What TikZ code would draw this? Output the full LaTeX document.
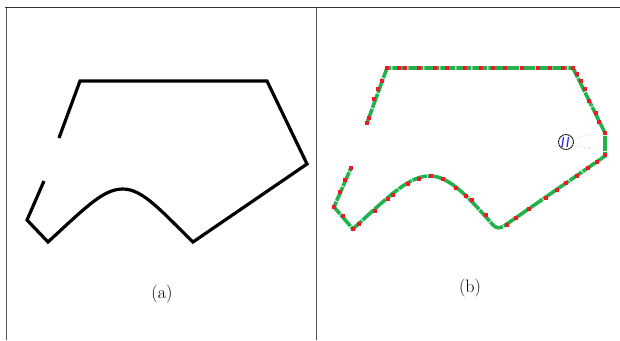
\documentclass[tikz,border=0pt]{standalone}
\usepackage{tikz}
\definecolor{cTrack}{HTML}{22B14C}
\definecolor{cSeed}{HTML}{ED1C24}
\definecolor{cFrame}{HTML}{555555}
\definecolor{cProbe}{HTML}{1F2BE0}
\newcommand{\seed}[2]{\fill[cSeed] (#1-2,#2-2) rectangle (#1+2,#2+2);}

\begin{document}
\begin{tikzpicture}[x=1pt, y=-1pt,
  frame/.style={draw=cFrame, line width=1pt},
  contour/.style={draw=black, line width=3.2pt, line join=miter},
  track/.style={draw=cTrack, line width=3.6pt, dash pattern=on 15pt off 1pt},
  probe/.style={draw=black, line width=0.9pt, dash pattern=on 2pt off 0.6pt},
  ray/.style={draw=cSeed!45, line width=0.6pt, dotted},
  caption/.style={font=\fontsize{18}{20}\selectfont, inner sep=0pt}]
\useasboundingbox (0,0) rectangle (620,340);
% ---- frame: top rule, left rule and the divider between the panels ----
\draw[frame, draw=black!80] (5,7.5) -- (620,7.5);
\draw[frame] (6.5,7.5) -- (6.5,340);
\draw[frame] (316,7.5) -- (316,340);
% ---- panel (a): the broken outline ----
\draw[contour] (59,138) -- (80,81) -- (267,81) -- (307,164) -- (193,242)
  .. controls (162,212) and (143,189) .. (123,189)
  .. controls (104,189) and (88,205) .. (48,242) -- (27,220) -- (44,181);
\node[caption] (capA) at (162,294) {(a)};
% ---- panel (b): the traced outline and its seed points ----
\draw[track] (367,123) -- (387,68) -- (573,68) -- (605,133) -- (605,156) -- (504,226)
  .. controls (499,229) and (496,228) .. (493,225)
  .. controls (470,199) and (450,176) .. (430,176)
  .. controls (411,176) and (395,190) .. (353,229) -- (334,207) -- (351,168);
\foreach \sx/\sy in {386.7/68, 399.3/68, 405/68, 419.3/68, 435/68, 446.7/68, 465/68, 480.7/68,
    493.3/68, 505/68, 521.7/68, 538.3/68, 550/68, 562.7/68, 573.3/68,
    381.7/80.7, 378.3/89.3, 374.3/99.3, 369.3/118.3, 366.7/122.7,
    576.7/74, 580.7/81, 585/89.3, 589.3/100.7, 596/113.3, 599.3/121.7, 605/133.3, 605/155,
    597.3/161.7, 588.3/167.7, 576.7/175.7, 566/183.3, 556.7/190, 546/197.7, 529.3/209.3,
    516/218.3, 506.7/225, 486/215, 471.7/200, 466/196, 455.7/187.7, 442.7/179, 430.7/176,
    419/179.3, 408.3/184, 393.3/195, 387.7/199.3, 375/210.7, 359.3/224.3, 353/229,
    342.7/215.7, 334.3/206.7, 340/191.7, 345/180, 350.7/168.3}
  {\seed{\sx}{\sy}}
% ---- the probe circle and its faint rays ----
\draw[probe] (566,142) circle (7.5);
\draw[cProbe, line width=1.2pt] (563.5,137) -- (562,147);
\draw[cProbe, line width=1.2pt] (568.5,137) -- (567,147);
\draw[ray] (574,139) -- (598,132);
\draw[ray] (574,145) -- (596,150);
\node[caption] (capB) at (470,288) {(b)};
\end{tikzpicture}
\end{document}
